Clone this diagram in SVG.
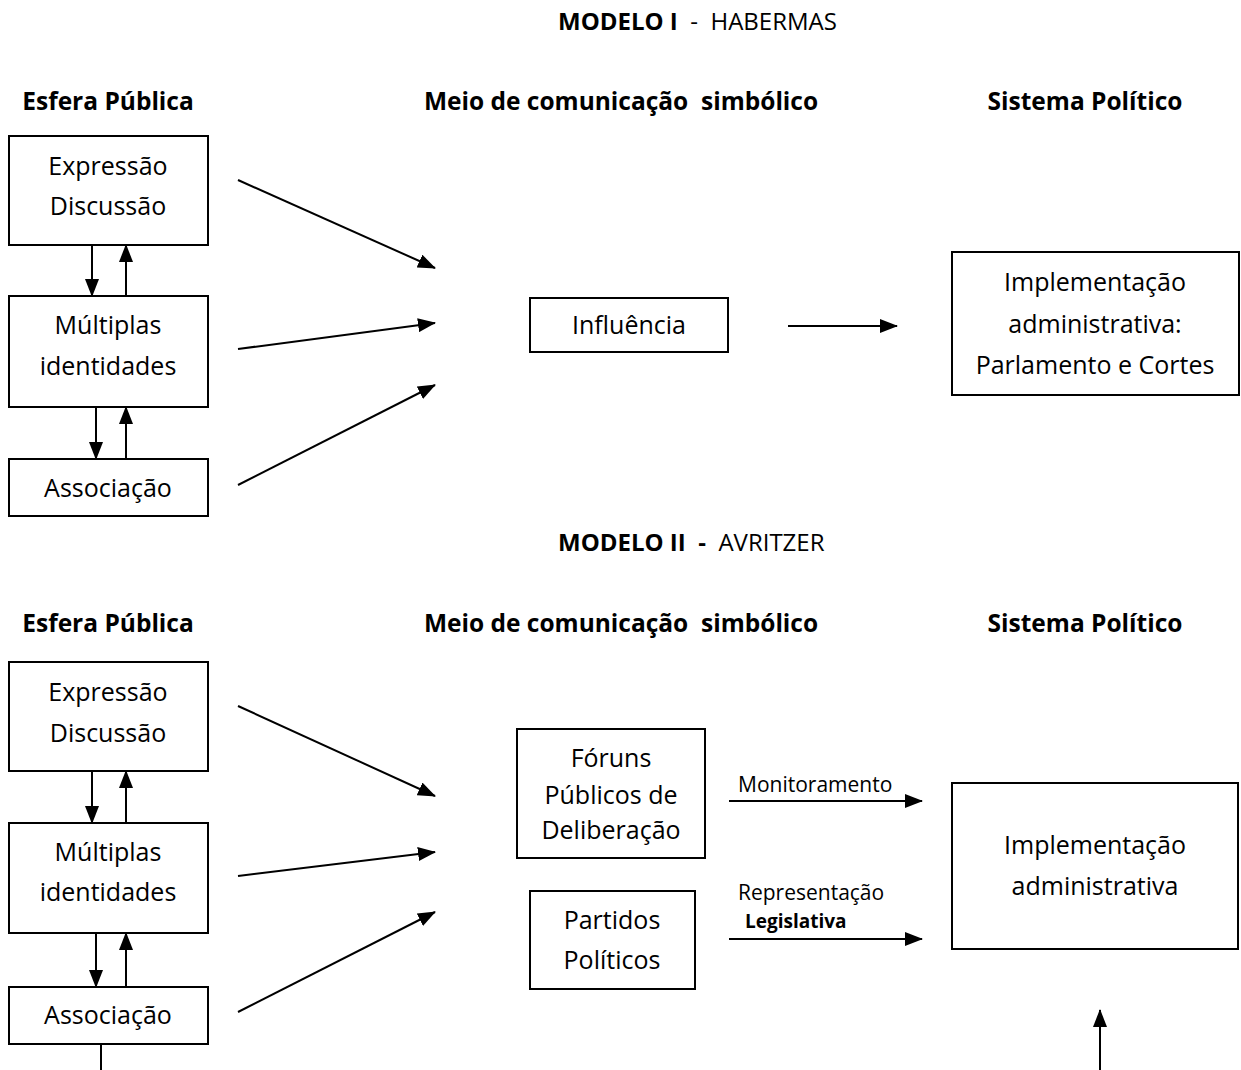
<svg xmlns="http://www.w3.org/2000/svg" width="1241" height="1070" viewBox="0 0 1241 1070">
<style>
.box{fill:#fff;stroke:#000;stroke-width:2}
text{white-space:pre;font-family:"Open Sans","Liberation Sans",sans-serif;fill:#000}
.t{font-size:25px;text-anchor:middle}
.h{font-size:24.5px;font-weight:bold;text-anchor:middle}
.title{font-size:24px}
.s{font-size:21px}
.sb{font-size:19px;font-weight:bold}
.c{stroke:#000;stroke-width:2;fill:none;marker-end:url(#ah)}
.l{stroke:#000;stroke-width:2;fill:none}
</style>
<defs>
<marker id="ah" markerUnits="userSpaceOnUse" markerWidth="18" markerHeight="14" refX="17" refY="7" orient="auto">
<path d="M0,0 L18,7 L0,14 Z" fill="#000"/>
</marker>
</defs>
<rect width="1241" height="1070" fill="#fff"/>

<text class="title" x="558" y="30" xml:space="preserve"><tspan font-weight="bold">MODELO I</tspan>  -  HABERMAS</text>
<text class="h" x="108" y="110">Esfera Pública</text>
<text class="h" x="621" y="110" xml:space="preserve">Meio de comunicação  simbólico</text>
<text class="h" x="1085" y="110">Sistema Político</text>

<text class="title" x="558" y="551" xml:space="preserve"><tspan font-weight="bold">MODELO II  -</tspan>  AVRITZER</text>
<text class="h" x="108" y="632">Esfera Pública</text>
<text class="h" x="621" y="632" xml:space="preserve">Meio de comunicação  simbólico</text>
<text class="h" x="1085" y="632">Sistema Político</text>

<g id="m1-expressao"><rect class="box" x="9" y="136" width="199" height="109"/><text class="t" x="108" y="175">Expressão</text><text class="t" x="108" y="215">Discussão</text></g>
<g id="m1-multiplas"><rect class="box" x="9" y="296" width="199" height="111"/><text class="t" x="108" y="334">Múltiplas</text><text class="t" x="108" y="375">identidades</text></g>
<g id="m1-associacao"><rect class="box" x="9" y="459" width="199" height="57"/><text class="t" x="108" y="497">Associação</text></g>
<g id="m1-influencia"><rect class="box" x="530" y="298" width="198" height="54"/><text class="t" x="629" y="334">Influência</text></g>
<g id="m1-implementacao"><rect class="box" x="952" y="252" width="287" height="143"/><text class="t" x="1095" y="291">Implementação</text><text class="t" x="1095" y="333">administrativa:</text><text class="t" x="1095" y="374">Parlamento e Cortes</text></g>

<g id="m2-expressao"><rect class="box" x="9" y="662" width="199" height="109"/><text class="t" x="108" y="701">Expressão</text><text class="t" x="108" y="742">Discussão</text></g>
<g id="m2-multiplas"><rect class="box" x="9" y="823" width="199" height="110"/><text class="t" x="108" y="861">Múltiplas</text><text class="t" x="108" y="901">identidades</text></g>
<g id="m2-associacao"><rect class="box" x="9" y="987" width="199" height="57"/><text class="t" x="108" y="1024">Associação</text></g>
<g id="m2-foruns"><rect class="box" x="517" y="729" width="188" height="129"/><text class="t" x="611" y="767">Fóruns</text><text class="t" x="611" y="804">Públicos de</text><text class="t" x="611" y="839">Deliberação</text></g>
<g id="m2-partidos"><rect class="box" x="530" y="891" width="165" height="98"/><text class="t" x="612" y="929">Partidos</text><text class="t" x="612" y="969">Políticos</text></g>
<g id="m2-implementacao"><rect class="box" x="952" y="783" width="286" height="166"/><text class="t" x="1095" y="854">Implementação</text><text class="t" x="1095" y="895">administrativa</text></g>

<g id="connectors">
<line class="c" x1="92" y1="245" x2="92" y2="296"/>
<line class="c" x1="126" y1="296" x2="126" y2="245"/>
<line class="c" x1="96" y1="407" x2="96" y2="459"/>
<line class="c" x1="126" y1="459" x2="126" y2="407"/>
<line class="c" x1="238" y1="180" x2="435" y2="268"/>
<line class="c" x1="238" y1="349" x2="435" y2="323"/>
<line class="c" x1="238" y1="485" x2="435" y2="385"/>
<line class="c" x1="788" y1="326" x2="897" y2="326"/>

<line class="c" x1="92" y1="771" x2="92" y2="823"/>
<line class="c" x1="126" y1="823" x2="126" y2="771"/>
<line class="c" x1="96" y1="933" x2="96" y2="987"/>
<line class="c" x1="126" y1="987" x2="126" y2="933"/>
<line class="l" x1="101" y1="1044" x2="101" y2="1070"/>
<line class="c" x1="238" y1="706" x2="435" y2="796"/>
<line class="c" x1="238" y1="876" x2="435" y2="852"/>
<line class="c" x1="238" y1="1012" x2="435" y2="912"/>
<line class="c" x1="729" y1="801" x2="922" y2="801"/>
<line class="c" x1="729" y1="939" x2="922" y2="939"/>
<line class="c" x1="1100" y1="1070" x2="1100" y2="1010"/>
<text class="s" x="738" y="792">Monitoramento</text>
<text class="s" x="738" y="900">Representação</text>
<text class="sb" x="745" y="928">Legislativa</text>
</g>
</svg>
